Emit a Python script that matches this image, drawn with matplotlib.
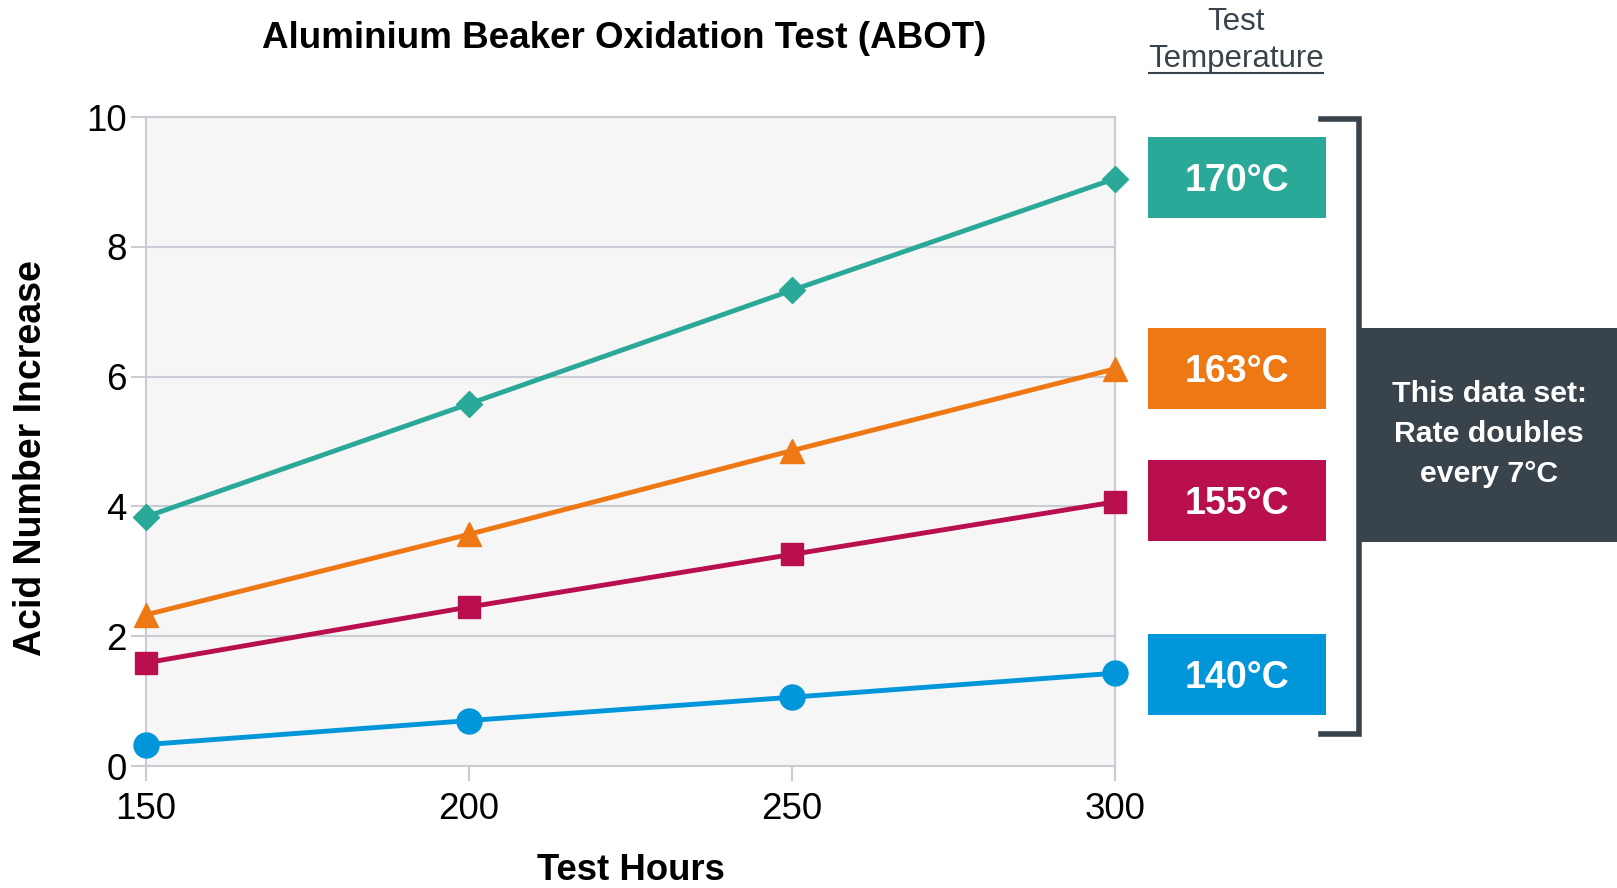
import matplotlib.pyplot as plt
from matplotlib.patches import Rectangle
from matplotlib.lines import Line2D

plt.rcParams['font.family'] = 'Liberation Sans'

# data
hours = [150, 200, 250, 300]
temps = ['170°C', '163°C', '155°C', '140°C']
acid_170 = [3.84, 5.58, 7.33, 9.05]
acid_163 = [2.33, 3.57, 4.86, 6.12]
acid_155 = [1.59, 2.45, 3.26, 4.07]
acid_140 = [0.33, 0.70, 1.06, 1.43]
series = [acid_170, acid_163, acid_155, acid_140]
colors = ['#2AA998', '#EE7813', '#BA0F4E', '#0096D9']
markers = ['D', '^', 's', 'o']
marker_sizes = [13, 17, 16, 18]
y_ticks = [0, 2, 4, 6, 8, 10]

W, H = 1617, 888
fig = plt.figure(figsize=(W / 100, H / 100), dpi=100)


def fx(px):
    return px / W


def fy(py):
    return 1 - py / H


ax = fig.add_axes([fx(146), fy(766), fx(1115) - fx(146), fy(117) - fy(766)])
ax.set_facecolor('#F6F6F6')
for vals, c, m, ms in zip(series, colors, markers, marker_sizes):
    ax.plot(hours, vals, color=c, lw=3.5, marker=m, markersize=ms,
            clip_on=False, zorder=3)

ax.set_xlim(150, 300)
ax.set_ylim(0, 10)
ax.set_xticks(hours)
ax.set_yticks(y_ticks)
ax.grid(axis='y', color='#C9CDD3', lw=1.5)
ax.set_axisbelow(True)
for s in ax.spines.values():
    s.set_color('#C9CDD3')
    s.set_linewidth(1.5)
ax.tick_params(axis='both', colors='#C9CDD3', width=1.5, length=11,
               labelsize=26.5, labelcolor='black')
ax.tick_params(axis='x', pad=8)
ax.tick_params(axis='y', pad=3)

ax.set_xlabel('Test Hours', fontsize=26.3, fontweight='bold', va='center')
ax.set_ylabel('Acid Number Increase', fontsize=27, fontweight='bold', va='center')
ax.xaxis.set_label_coords(0.5, -(871 - 766) / 649)
ax.yaxis.set_label_coords((31 - 146) / 969, 0.5 - 17 / 649)

fig.text(fx(624), fy(39), 'Aluminium Beaker Oxidation Test (ABOT)',
         fontsize=26.5, fontweight='bold', ha='center', va='center')

dark = '#39434C'
fig.text(fx(1236), fy(22), 'Test', fontsize=22.5, color=dark, ha='center', va='center')
fig.text(fx(1236), fy(59), 'Temperature', fontsize=22.5, color=dark, ha='center', va='center')
fig.add_artist(Line2D([fx(1149), fx(1323)], [fy(73), fy(73)], color=dark, lw=1.5))

# colour boxes with temperature labels
box_tops = [137, 328, 460, 634]
for label, c, top in zip(temps, colors, box_tops):
    fig.add_artist(Rectangle((fx(1148), fy(top + 81)), fx(1326) - fx(1148),
                             fy(top) - fy(top + 81), color=c, lw=0))
    fig.text(fx(1237), fy(top + 44), label, fontsize=27, fontweight='bold',
             color='white', ha='center', va='center')

# bracket
fig.add_artist(Line2D([fx(1321), fx(1359), fx(1359), fx(1321)],
                      [fy(119), fy(119), fy(734), fy(734)],
                      color=dark, lw=4, solid_joinstyle='miter'))

# summary box
fig.add_artist(Rectangle((fx(1359), fy(542)), 1 - fx(1359), fy(328) - fy(542),
                         color=dark, lw=0))
fig.text(fx(1489), fy(434), 'This data set:\nRate doubles\nevery 7°C',
         fontsize=21.8, fontweight='bold', color='white', ha='center', va='center',
         linespacing=1.55)

fig.savefig('out.png', dpi=100)
